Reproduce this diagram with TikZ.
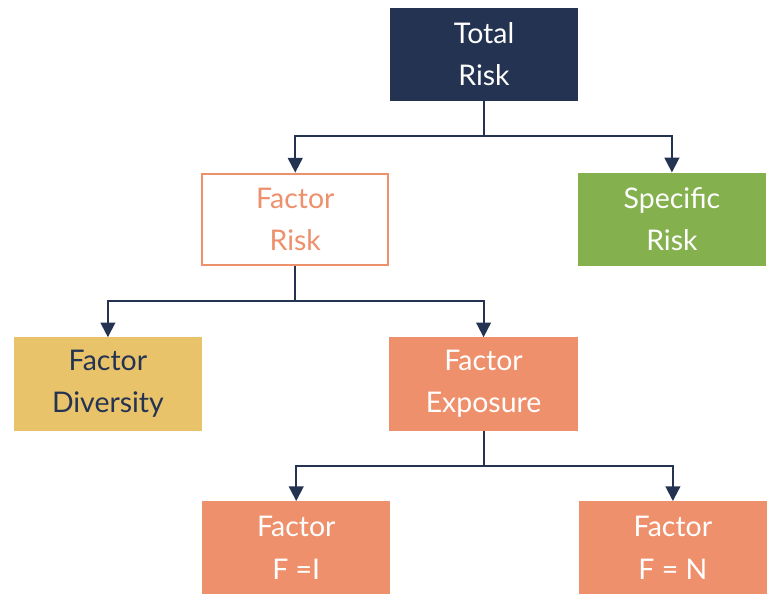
\documentclass[tikz,border=0pt]{standalone}
\usepackage{fontspec}
\setmainfont{Lato}
\usetikzlibrary{arrows.meta}
\definecolor{navy}{HTML}{243352}
\definecolor{salmon}{HTML}{EF906C}
\definecolor{leaf}{HTML}{84B04E}
\definecolor{mustard}{HTML}{E8C36A}
\begin{document}
\begin{tikzpicture}[x=1pt,y=-1pt,
  box/.style={minimum width=192pt,minimum height=95pt,inner sep=0pt,align=center,
    font=\fontsize{29}{43}\selectfont},
  link/.style={navy,line width=2pt,-{Triangle[width=15pt,length=15pt]}}]
  \useasboundingbox (0,0) rectangle (785,605);
  \node[box,fill=navy,text=white](total) at (493.5,55.5){Total\\Risk};
  \node[box,draw=salmon,line width=2pt,fill=white,text=salmon,
    minimum width=190pt,minimum height=93pt](frisk) at (301,223.5){Factor\\Risk};
  \node[box,fill=leaf,text=white](srisk) at (685,223.5){Specific\\Risk};
  \node[box,fill=mustard,text=navy](divers) at (110,391.5){Factor\\Diversity};
  \node[box,fill=salmon,text=white](expo) at (493,391.5){Factor\\Exposure};
  \node[box,fill=salmon,text=white](fone) at (302,558.5){Factor\\F =I};
  \node[box,fill=salmon,text=white](fn) at (686,558.5){Factor\\F = N};
  \draw[link](total.south)--++(0,35)-|(frisk.north);
  \draw[link](total.south)--++(0,35)-|(srisk.north);
  \draw[link](frisk.south)--++(0,36)-|(divers.north);
  \draw[link](frisk.south)--++(0,36)-|(expo.north);
  \draw[link](expo.south)--++(0,36)-|(fone.north);
  \draw[link](expo.south)--++(0,36)-|(fn.north);
\end{tikzpicture}
\end{document}
